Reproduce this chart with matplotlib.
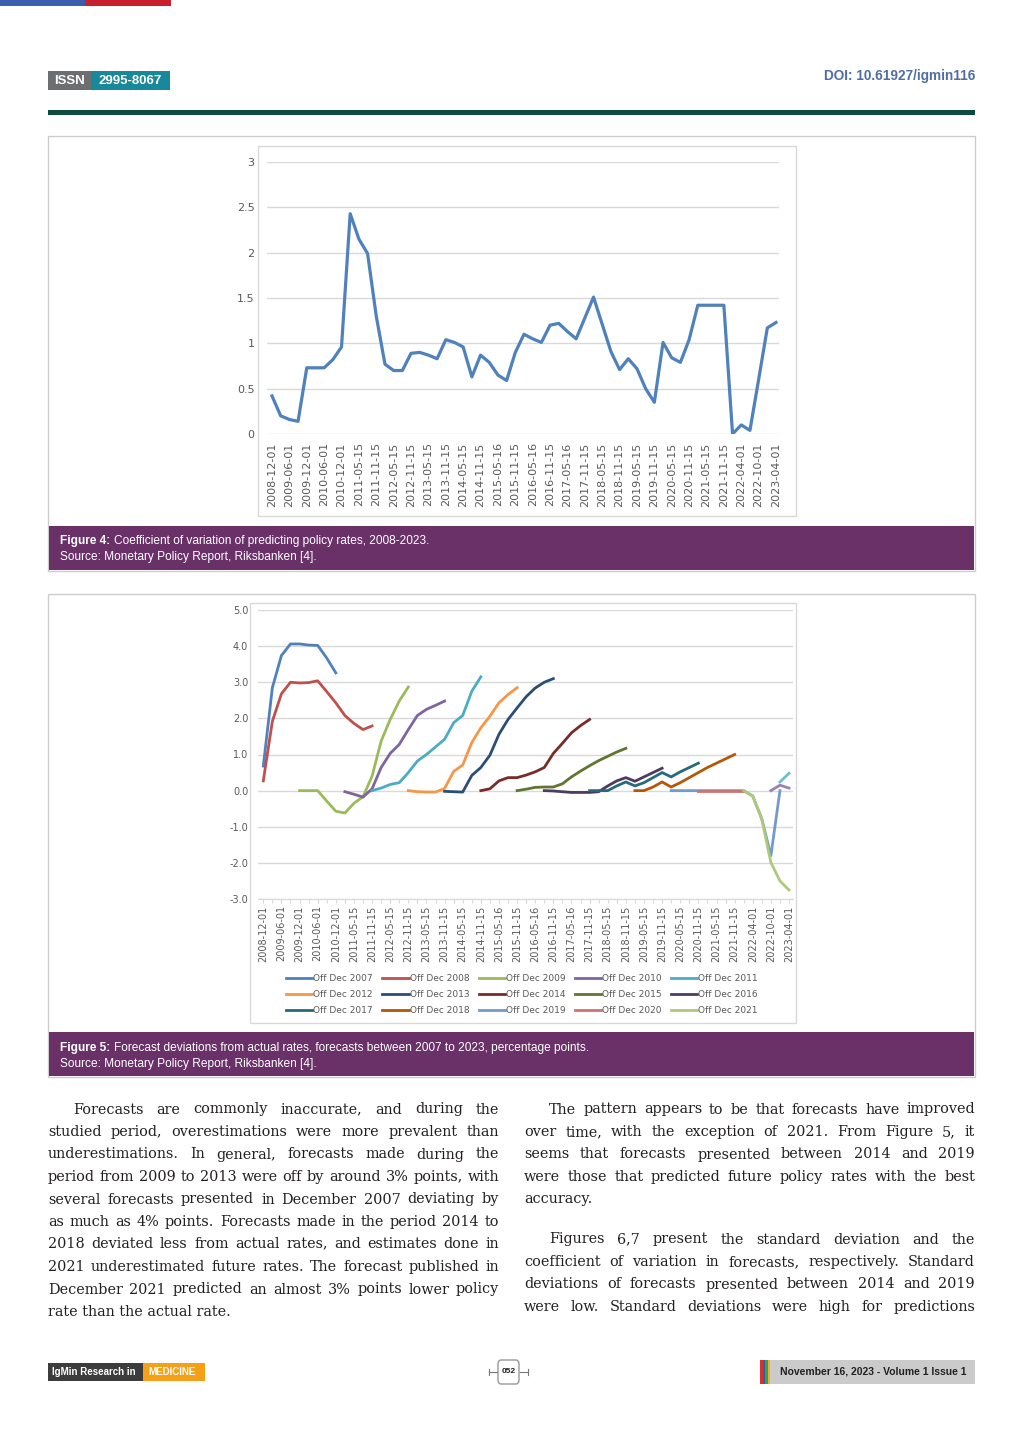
import matplotlib
matplotlib.use('Agg')
import matplotlib.pyplot as plt
import numpy as np
from matplotlib.patches import Rectangle, FancyBboxPatch
from matplotlib.lines import Line2D

W, H = 1024, 1448

# ---------------- data ----------------
date_labels = ['2008-12-01', '2009-06-01', '2009-12-01', '2010-06-01', '2010-12-01',
               '2011-05-15', '2011-11-15', '2012-05-15', '2012-11-15', '2013-05-15',
               '2013-11-15', '2014-05-15', '2014-11-15', '2015-05-16', '2015-11-15',
               '2016-05-16', '2016-11-15', '2017-05-16', '2017-11-15', '2018-05-15',
               '2018-11-15', '2019-05-15', '2019-11-15', '2020-05-15', '2020-11-15',
               '2021-05-15', '2021-11-15', '2022-04-01', '2022-10-01', '2023-04-01']

# coefficient of variation (one point per forecast round, labels on every 2nd)
cv_values = [0.42, 0.20, 0.16, 0.14, 0.73, 0.73, 0.73, 0.82, 0.96, 2.43,
             2.15, 1.99, 1.30, 0.77, 0.70, 0.70, 0.89, 0.90, 0.87, 0.83,
             1.04, 1.01, 0.96, 0.63, 0.87, 0.79, 0.65, 0.59, 0.90, 1.10,
             1.05, 1.01, 1.20, 1.22, 1.13, 1.05, 1.28, 1.51, 1.21, 0.91,
             0.71, 0.83, 0.72, 0.50, 0.35, 1.01, 0.84, 0.79, 1.04, 1.42,
             1.42, 1.42, 1.42, 0.00, 0.10, 0.04, 0.60, 1.17, 1.23]

# forecast deviations, each series starts at a category index
off_dec_2007 = [0.68, 2.85, 3.74, 4.06, 4.06, 4.03, 4.02, 3.67, 3.26]
off_dec_2008 = [0.27, 1.92, 2.68, 3.00, 2.98, 2.99, 3.04, 2.74, 2.43, 2.08, 1.86, 1.69, 1.79]
off_dec_2009 = [0.00, 0.00, 0.00, -0.29, -0.57, -0.62, -0.35, -0.17, 0.40, 1.37, 1.97, 2.48, 2.87]
off_dec_2010 = [-0.03, -0.10, -0.18, 0.05, 0.64, 1.03, 1.28, 1.69, 2.08, 2.25, 2.36, 2.48]
off_dec_2011 = [0.00, 0.07, 0.17, 0.22, 0.50, 0.82, 1.00, 1.21, 1.42, 1.88, 2.08, 2.75, 3.15]
off_dec_2012 = [0.00, -0.03, -0.04, -0.04, 0.06, 0.53, 0.71, 1.33, 1.74, 2.06, 2.43, 2.66, 2.85]
off_dec_2013 = [-0.02, -0.03, -0.04, 0.42, 0.64, 0.98, 1.56, 1.97, 2.29, 2.60, 2.84, 3.00, 3.10]
off_dec_2014 = [0.00, 0.05, 0.27, 0.36, 0.36, 0.43, 0.52, 0.64, 1.03, 1.31, 1.60, 1.80, 1.97]
off_dec_2015 = [0.00, 0.04, 0.09, 0.10, 0.10, 0.19, 0.38, 0.54, 0.69, 0.83, 0.95, 1.07, 1.17]
off_dec_2016 = [0.00, -0.01, -0.03, -0.05, -0.05, -0.05, -0.03, 0.13, 0.27, 0.36, 0.26, 0.38, 0.50, 0.62]
off_dec_2017 = [0.00, 0.00, 0.00, 0.13, 0.24, 0.13, 0.22, 0.36, 0.50, 0.38, 0.52, 0.64, 0.76]
off_dec_2018 = [0.00, 0.00, 0.10, 0.24, 0.10, 0.22, 0.36, 0.50, 0.64, 0.76, 0.88, 1.00]
off_dec_2019 = [0.00, 0.00, 0.00, 0.00, 0.00, 0.00, 0.00, 0.00, 0.00, -0.15, -0.78, -1.80, 0.00]
off_dec_2020 = [0.00, 0.00, 0.00, 0.00, 0.00, 0.00]
off_dec_2021 = [0.00, -0.15, -0.80, -1.99, -2.50, -2.75]
extra_a = [0.00, 0.15, 0.07]
extra_b = [0.24, 0.48]

series_names = ['Off Dec 2007', 'Off Dec 2008', 'Off Dec 2009', 'Off Dec 2010', 'Off Dec 2011',
                'Off Dec 2012', 'Off Dec 2013', 'Off Dec 2014', 'Off Dec 2015', 'Off Dec 2016',
                'Off Dec 2017', 'Off Dec 2018', 'Off Dec 2019', 'Off Dec 2020', 'Off Dec 2021']
series_values = [off_dec_2007, off_dec_2008, off_dec_2009, off_dec_2010, off_dec_2011,
                 off_dec_2012, off_dec_2013, off_dec_2014, off_dec_2015, off_dec_2016,
                 off_dec_2017, off_dec_2018, off_dec_2019, off_dec_2020, off_dec_2021]
series_start = [0, 0, 4, 9, 12, 16, 20, 24, 28, 31, 36, 41, 45, 48, 53]
extra_values = [extra_a, extra_b]
extra_start = [56, 57]

series_colors = ['#4F81BD', '#C0504D', '#9BBB59', '#8064A2', '#4BACC6', '#F79646',
                 '#2C4D75', '#772C2A', '#5F7530', '#4D3B62', '#276A7C', '#B65708',
                 '#729ACA', '#CD7371', '#AFC97A']
extra_colors = ['#9983B5', '#6FBDD1']

left_par = ['Forecasts are commonly inaccurate, and during the',
            'studied period, overestimations were more prevalent than',
            'underestimations. In general, forecasts made during the',
            'period from 2009 to 2013 were off by around 3% points, with',
            'several forecasts presented in December 2007 deviating by',
            'as much as 4% points. Forecasts made in the period 2014 to',
            '2018 deviated less from actual rates, and estimates done in',
            '2021 underestimated future rates. The forecast published in',
            'December 2021 predicted an almost 3% points lower policy',
            'rate than the actual rate.']
right_par1 = ['The pattern appears to be that forecasts have improved',
              'over time, with the exception of 2021. From Figure 5, it',
              'seems that forecasts presented between 2014 and 2019',
              'were those that predicted future policy rates with the best',
              'accuracy.']
right_par2 = ['Figures 6,7 present the standard deviation and the',
              'coefficient of variation in forecasts, respectively. Standard',
              'deviations of forecasts presented between 2014 and 2019',
              'were low. Standard deviations were high for predictions']

# ---------------- page ----------------
fig = plt.figure(figsize=(W / 100, H / 100), dpi=100)
renderer = fig.canvas.get_renderer()


def fx(x):
    return x / W


def fy(y):
    return 1 - y / H


def box(x0, y0, x1, y1, **kw):
    fig.add_artist(Rectangle((fx(x0), fy(y1)), (x1 - x0) / W, (y1 - y0) / H,
                             transform=fig.transFigure, **kw))


def measure(s, **kw):
    t = fig.text(0, 0, s, **kw)
    w = t.get_window_extent(renderer).width
    t.remove()
    return w


# header
box(0, 0, 85, 6, fc='#3A5DAE', ec='none')
box(85, 0, 171, 6, fc='#C8202F', ec='none')
box(48, 71, 91, 90, fc='#6D6E70', ec='none')
box(91, 71, 170, 90, fc='#17899A', ec='none')
fig.text(fx(69.5), fy(80.5), 'ISSN', color='white', fontsize=9.5, fontweight='bold',
         family='Liberation Sans', ha='center', va='center')
fig.text(fx(130.5), fy(80.5), '2995-8067', color='white', fontsize=9.5, fontweight='bold',
         family='Liberation Sans', ha='center', va='center')
fig.text(fx(975), fy(76), 'DOI: 10.61927/igmin116', color='#4E6FA3', fontsize=9.8,
         fontweight='bold', family='Liberation Sans', ha='right', va='center')
box(48, 110, 975, 115, fc='#0C4B3F', ec='none')

# figure frames and captions
box(48, 136, 975, 571, fill=False, ec='#CCCCCC', lw=1)
box(258, 146, 796, 516, fill=False, ec='#D9D9D9', lw=1)
box(49, 526, 974, 570, fc='#6A3169', ec='none')
box(48, 594, 975, 1077, fill=False, ec='#CCCCCC', lw=1)
box(250, 603, 796, 1023, fill=False, ec='#D9D9D9', lw=1)
box(49, 1032, 974, 1076, fc='#6A3169', ec='none')

cap_kw = dict(color='white', fontsize=8.6, family='Liberation Sans', va='center')


def caption(y, bold, rest, source):
    fig.text(fx(60), fy(y), bold, fontweight='bold', **cap_kw)
    bw = measure(bold + ' ', fontweight='bold', **cap_kw)
    fig.text(fx(60 + bw), fy(y), rest, **cap_kw)
    fig.text(fx(60), fy(y + 16), source, **cap_kw)


caption(541, 'Figure 4:', 'Coefficient of variation of predicting policy rates, 2008-2023.',
        'Source: Monetary Policy Report, Riksbanken [4].')
caption(1048, 'Figure 5:', 'Forecast deviations from actual rates, forecasts between 2007 to 2023, percentage points.',
        'Source: Monetary Policy Report, Riksbanken [4].')

grey = '#595959'
grid_c = '#D9D9D9'

# ---------------- Figure 4 chart ----------------
ax1 = fig.add_axes([fx(267), fy(434), (779 - 267) / W, (434 - 162) / H])
x1 = np.arange(len(cv_values))
ax1.plot(x1, cv_values, color='#4F81BD', lw=2.3, solid_joinstyle='round')
ax1.set_xlim(-0.575, 58.345)
ax1.set_ylim(0, 3)
ax1.set_yticks(np.arange(0, 3.01, 0.5))
ax1.set_yticklabels(['0', '0.5', '1', '1.5', '2', '2.5', '3'])
ax1.set_xticks(np.arange(0, len(cv_values), 2))
ax1.set_xticklabels(date_labels, rotation=90)
ax1.grid(axis='y', color=grid_c, lw=1)
ax1.set_axisbelow(True)
for s in ax1.spines.values():
    s.set_visible(False)
ax1.tick_params(axis='y', length=0, pad=9, labelcolor=grey, labelsize=8)
ax1.tick_params(axis='x', length=0, pad=6, labelcolor=grey, labelsize=8)

# ---------------- Figure 5 chart ----------------
ax2 = fig.add_axes([fx(258), fy(899), (793 - 258) / W, (899 - 610) / H])
for name, vals, st, c in zip(series_names, series_values, series_start, series_colors):
    ax2.plot(np.arange(st, st + len(vals)), vals, color=c, lw=2, label=name,
             solid_joinstyle='round')
for vals, st, c in zip(extra_values, extra_start, extra_colors):
    ax2.plot(np.arange(st, st + len(vals)), vals, color=c, lw=2, solid_joinstyle='round')
ax2.set_xlim(-0.585, 58.44)
ax2.set_ylim(-3, 5)
yt = np.arange(-3, 6)
ax2.set_yticks(yt)
ax2.set_yticklabels([f'{v:.1f}' for v in yt])
ax2.set_xticks(np.arange(0, 59))
ax2.set_xticklabels([date_labels[i // 2] if i % 2 == 0 else '' for i in range(59)], rotation=90)
ax2.grid(axis='y', color=grid_c, lw=1)
ax2.set_axisbelow(True)
for k, s in ax2.spines.items():
    s.set_visible(k == 'bottom')
ax2.spines['bottom'].set_color(grid_c)
ax2.tick_params(axis='y', length=0, pad=7, labelcolor=grey, labelsize=7)
ax2.tick_params(axis='x', length=3, color=grid_c, pad=1.5, labelcolor=grey, labelsize=7)

handles, labels = ax2.get_legend_handles_labels()
order = [r * 5 + c for c in range(5) for r in range(3)]
fig.legend([handles[i] for i in order], [labels[i] for i in order], ncol=5,
           loc='center', bbox_to_anchor=(fx(522), fy(994.5)), frameon=False,
           fontsize=6.5, labelcolor=grey, handlelength=2.9, handletextpad=0.1,
           columnspacing=1.05, labelspacing=0.75, borderpad=0)

# ---------------- body text ----------------
body_kw = dict(family='DejaVu Serif', color='#231F20', va='baseline')

# choose the size at which the tightest justified line just fills the column
col_w = 451
tight = [measure(l, fontsize=10, **body_kw) for l in left_par[1:-1] + right_par1[1:-1] + right_par2[1:]]
body_kw['fontsize'] = 10 * col_w / max(tight) * 0.995


def paragraph(lines, x0, x1, y, indent=25, justify_last=False, lh=22.5):
    for k, line in enumerate(lines):
        left = x0 + (indent if k == 0 else 0)
        words = line.split()
        if k == len(lines) - 1 and not justify_last:
            fig.text(fx(left), fy(y), line, **body_kw)
        else:
            widths = [measure(w, **body_kw) for w in words]
            gap = (x1 - left - sum(widths)) / (len(words) - 1)
            xx = left
            for w, wd in zip(words, widths):
                fig.text(fx(xx), fy(y), w, **body_kw)
                xx += wd + gap
        y += lh


paragraph(left_par, 48, 499, 1113.5)
paragraph(right_par1, 524, 975, 1113.5)
paragraph(right_par2, 524, 975, 1243.5, justify_last=True)

# ---------------- footer ----------------
box(48, 1363, 143, 1381, fc='#3C3C3C', ec='none')
box(143, 1363, 205, 1381, fc='#F6A01A', ec='none')
fig.text(fx(52), fy(1372), 'IgMin Research in', color='white', fontsize=7, fontweight='bold',
         family='Liberation Sans', va='center')
fig.text(fx(148), fy(1372), 'MEDICINE', color='white', fontsize=7, fontweight='bold',
         family='Liberation Sans', va='center')

fig.add_artist(FancyBboxPatch((fx(498), fy(1384)), 21 / W, 24 / H,
                              boxstyle='round,pad=0,rounding_size=0.003',
                              transform=fig.transFigure, fc='white', ec='#999999', lw=1))
fig.text(fx(508.5), fy(1371.5), '052', fontsize=6, fontweight='bold', family='Liberation Sans',
         ha='center', va='center', color='#222222')
for xa, xb in [(489, 497), (520, 528)]:
    fig.add_artist(Line2D([fx(xa), fx(xb)], [fy(1372), fy(1372)], transform=fig.transFigure,
                          color='#777777', lw=0.8))
for xa in [489, 528]:
    fig.add_artist(Line2D([fx(xa), fx(xa)], [fy(1369), fy(1375)], transform=fig.transFigure,
                          color='#777777', lw=0.8))

for i, c in enumerate(['#D7312E', '#2B63B0', '#3DA047', '#F0B323']):
    box(760 + i * 2.5, 1360, 762.5 + i * 2.5, 1384, fc=c, ec='none')
box(770, 1360, 975, 1384, fc='#CBCBCB', ec='none')
fig.text(fx(780), fy(1372), 'November 16, 2023 - Volume 1 Issue 1', fontsize=7.5,
         fontweight='bold', family='Liberation Sans', color='#222222', va='center')

fig.savefig('out.png', dpi=100, facecolor='white')
